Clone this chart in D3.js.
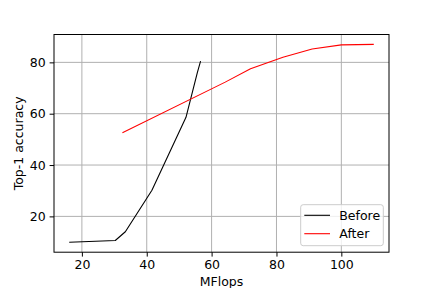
<!DOCTYPE html>
<html>
<head>
<meta charset="utf-8">
<script src="https://cdn.jsdelivr.net/npm/d3@7"></script>
<style>
  body { margin: 0; background: #fff; }
  svg { font-family: "DejaVu Sans", sans-serif; }
</style>
</head>
<body>
<svg width="432" height="288"></svg>
<script>
// data
const beforeX = [16.1, 30.3, 33.4, 41.6, 52.1, 55.6, 56.6];
const beforeY = [9.9, 10.6, 14.0, 30.2, 58.6, 76.0, 80.5];
const afterX = [32.5, 64.2, 72.0, 82.0, 91.0, 100.0, 110.0];
const afterY = [52.6, 72.3, 77.5, 82.0, 85.2, 86.8, 87.0];
const xTicks = [20, 40, 60, 80, 100];
const yTicks = [20, 40, 60, 80];
const seriesNames = ['Before', 'After'];
const seriesColors = ['#000000', '#ff0000'];

const svg = d3.select('svg');
const margin = {top: 34.5, right: 43, bottom: 35.8, left: 54};
const width = +svg.attr('width');
const height = +svg.attr('height');
const innerWidth = width - margin.left - margin.right;
const innerHeight = height - margin.top - margin.bottom;
const fontSize = 12.5;

const series = [
  beforeX.map((x, i) => ({x, y: beforeY[i]})),
  afterX.map((x, i) => ({x, y: afterY[i]}))
];

// 5% padding like matplotlib
const allX = beforeX.concat(afterX), allY = beforeY.concat(afterY);
const pad = ext => { const d = (ext[1] - ext[0]) * 0.05; return [ext[0] - d, ext[1] + d]; };

const x = d3.scaleLinear().domain(pad(d3.extent(allX))).range([0, innerWidth]);
const y = d3.scaleLinear().domain(pad(d3.extent(allY))).range([innerHeight, 0]);

const g = svg.append('g').attr('transform', `translate(${margin.left},${margin.top})`);

// grid
g.append('g').selectAll('line').data(xTicks).enter().append('line')
  .attr('x1', d => x(d)).attr('x2', d => x(d))
  .attr('y1', 0).attr('y2', innerHeight)
  .attr('stroke', '#b0b0b0').attr('stroke-width', 1);
g.append('g').selectAll('line').data(yTicks).enter().append('line')
  .attr('y1', d => y(d)).attr('y2', d => y(d))
  .attr('x1', 0).attr('x2', innerWidth)
  .attr('stroke', '#b0b0b0').attr('stroke-width', 1);

// lines
const line = d3.line().x(d => x(d.x)).y(d => y(d.y));
g.selectAll('path.series').data(series).enter().append('path')
  .attr('class', 'series')
  .attr('d', line)
  .attr('fill', 'none')
  .attr('stroke', (d, i) => seriesColors[i])
  .attr('stroke-width', 1.1)
  .attr('stroke-linejoin', 'round');

// axes
const xAxis = g.append('g')
  .attr('transform', `translate(0,${innerHeight})`)
  .call(d3.axisBottom(x).tickValues(xTicks).tickSize(4.4).tickPadding(4).tickSizeOuter(0));
const yAxis = g.append('g')
  .call(d3.axisLeft(y).tickValues(yTicks).tickSize(4.4).tickPadding(4).tickSizeOuter(0));
[xAxis, yAxis].forEach(a => {
  a.attr('font-size', fontSize).attr('font-family', '"DejaVu Sans", sans-serif');
  a.select('.domain').remove();
  a.selectAll('.tick line').attr('stroke', '#000').attr('stroke-width', 1);
  a.selectAll('.tick text').attr('fill', '#000');
});

// frame
g.append('rect')
  .attr('width', innerWidth).attr('height', innerHeight)
  .attr('fill', 'none').attr('stroke', '#000').attr('stroke-width', 1);

// axis labels
svg.append('text')
  .attr('x', margin.left + innerWidth / 2).attr('y', 286)
  .attr('text-anchor', 'middle').style('font-size', fontSize + 'px')
  .text('MFlops');
svg.append('text')
  .attr('transform', `translate(23,${margin.top + innerHeight / 2}) rotate(-90)`)
  .attr('text-anchor', 'middle').style('font-size', fontSize + 'px')
  .text('Top-1 accuracy');

// legend
const legend = g.append('g').attr('transform', `translate(${innerWidth - 88.3},${innerHeight - 47.5})`);
legend.append('rect')
  .attr('width', 82.6).attr('height', 41)
  .attr('rx', 2.5).attr('fill', '#fff').attr('fill-opacity', 0.8)
  .attr('stroke', '#cccccc').attr('stroke-width', 1);
seriesNames.forEach((name, i) => {
  const yy = 10.6 + i * 18.4;
  legend.append('line')
    .attr('x1', 3.6).attr('x2', 29.3).attr('y1', yy).attr('y2', yy)
    .attr('stroke', seriesColors[i]).attr('stroke-width', 1.1);
  legend.append('text')
    .attr('x', 38.6).attr('y', yy + 4.5)
    .style('font-size', fontSize + 'px')
    .text(name);
});
</script>
</body>
</html>
